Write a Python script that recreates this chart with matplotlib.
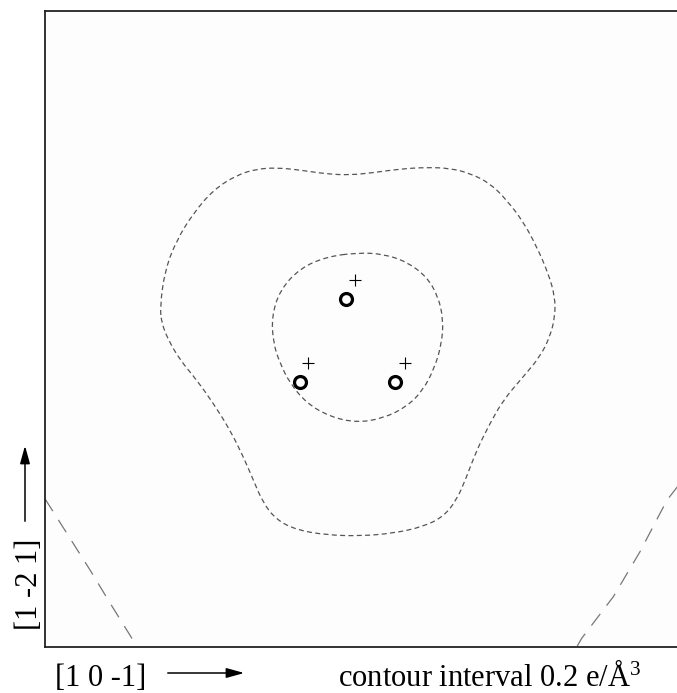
import matplotlib
matplotlib.use("Agg")
import matplotlib.pyplot as plt
from matplotlib.path import Path
from matplotlib.patches import PathPatch, FancyArrowPatch

plt.rcParams["lines.scale_dashes"] = False
plt.rcParams["mathtext.fontset"] = "custom"
plt.rcParams["mathtext.rm"] = "Liberation Serif"
plt.rcParams["mathtext.it"] = "Liberation Serif:italic"

# map grid units (0..100 along each side of the section)
outer_x = [18.08, 18.87, 20.71, 23.32, 26.46, 30.14, 33.29, 36.43, 40.09, 44.29,
           47.96, 51.62, 55.82, 60.02, 63.68, 66.82, 69.97, 72.59, 75.20, 77.31,
           79.13, 80.19, 80.19, 79.40, 77.83, 75.20, 72.06, 69.97, 67.88, 66.30,
           64.73, 62.63, 59.48, 54.76, 49.53, 44.29, 39.58, 36.43, 34.32, 32.75,
           31.18, 29.09, 26.46, 23.85, 21.23, 19.39, 18.35]
outer_y = [53.50, 59.28, 63.99, 68.19, 71.86, 74.21, 75.16, 75.36, 75.00, 74.37,
           74.21, 74.58, 75.16, 75.42, 75.27, 74.48, 72.91, 70.28, 66.87, 62.94,
           58.76, 55.08, 51.93, 48.79, 45.64, 42.50, 38.84, 35.17, 30.97, 26.78,
           23.11, 20.49, 18.92, 17.88, 17.45, 17.61, 18.40, 19.97, 22.59, 26.26,
           29.92, 34.12, 38.32, 41.98, 45.13, 48.27, 50.90]

inner_x = [49.26, 53.19, 56.87, 60.02, 61.84, 62.63, 62.37, 61.32, 59.48, 56.87,
           53.19, 49.01, 44.81, 41.15, 38.52, 36.95, 35.90, 35.64, 36.95, 40.09,
           44.29]
inner_y = [62.00, 61.79, 60.58, 58.22, 55.08, 51.42, 47.75, 44.07, 40.41, 37.78,
           35.96, 35.27, 36.21, 38.32, 41.46, 44.61, 47.75, 51.93, 56.13, 59.54,
           61.37]

corner_left_x = [0.0, 3.41, 7.08, 10.22, 13.63, 14.50]
corner_left_y = [23.3, 17.92, 12.11, 6.92, 1.42, 0.0]
corner_right_x = [100.3, 97.8, 93.55, 89.36, 84.39, 83.6]
corner_right_y = [26.3, 23.1, 14.98, 7.91, 1.37, 0.0]

# oxygen atoms and the cation positions next to them
atom_x = [47.38, 40.05, 55.06]
atom_y = [54.64, 41.61, 41.61]
site_x = [48.79, 41.40, 56.60]
site_y = [57.70, 44.70, 44.70]


def closed_curve(xs, ys):
    # quadratic bezier through midpoints, using the contour points as controls
    pts = list(zip(xs, ys))
    n = len(pts)
    mids = [((pts[i][0] + pts[(i + 1) % n][0]) / 2,
             (pts[i][1] + pts[(i + 1) % n][1]) / 2) for i in range(n)]
    verts = [mids[-1]]
    codes = [Path.MOVETO]
    for i in range(n):
        verts += [pts[i], mids[i]]
        codes += [Path.CURVE3, Path.CURVE3]
    return Path(verts, codes)


fig = plt.figure(figsize=(6.77, 6.93), dpi=100)
fig.patch.set_facecolor("white")
ax = fig.add_axes([45 / 677, 46 / 693, 636 / 677, 636 / 693])
ax.set_facecolor("#fdfdfd")
ax.set_xlim(0, 100)
ax.set_ylim(0, 100)
ax.set_xticks([])
ax.set_yticks([])
ax.spines["right"].set_visible(False)
for s in ["left", "top", "bottom"]:
    ax.spines[s].set_linewidth(1.3)
    ax.spines[s].set_color("#222222")

dash_short = (0, (3.6, 2.4))
dash_long = (0, (10.5, 7.5))
for xs, ys in [(outer_x, outer_y), (inner_x, inner_y)]:
    ax.add_patch(PathPatch(closed_curve(xs, ys), fill=False, edgecolor="#555555",
                           lw=0.9, linestyle=dash_short))
ax.plot(corner_left_x, corner_left_y, color="#777777", lw=0.9, linestyle=dash_long)
ax.plot(corner_right_x, corner_right_y, color="#777777", lw=0.9, linestyle=dash_long)

ax.plot(atom_x, atom_y, linestyle="none", marker="o", ms=8.6, mfc="none",
        mec="black", mew=2.3)
ax.plot(site_x, site_y, linestyle="none", marker="+", ms=8.5, color="black",
        mew=0.8)

serif = "Liberation Serif"
fig.text(55 / 677, 1 - 686 / 693, "[1 0 -1]", fontsize=22, family=serif,
         ha="left", va="baseline")
fig.text(338 / 677, 1 - 686 / 693, r"contour interval 0.2 e/Å$^3$",
         fontsize=22, family=serif, ha="left", va="baseline")
fig.text(37 / 677, 1 - 630 / 693, "[1 -2 1]", fontsize=22, family=serif,
         rotation=90, ha="left", va="baseline", rotation_mode="anchor")

head = "-|>,head_length=0.9,head_width=0.25"
fig.add_artist(FancyArrowPatch(
    (165 / 677, 1 - 673 / 693), (247 / 677, 1 - 673 / 693),
    transform=fig.transFigure, mutation_scale=12,
    arrowstyle=head, color="black", lw=1.1))
fig.add_artist(FancyArrowPatch(
    (25 / 677, 1 - 524 / 693), (25 / 677, 1 - 443 / 693),
    transform=fig.transFigure, mutation_scale=12,
    arrowstyle=head, color="black", lw=1.1))

fig.savefig("out.png", dpi=100)
